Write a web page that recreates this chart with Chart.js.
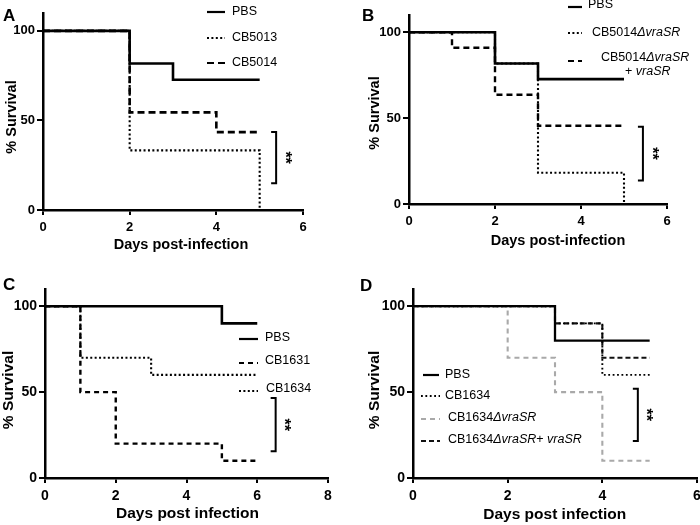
<!DOCTYPE html>
<html><head><meta charset="utf-8">
<script src="https://cdn.jsdelivr.net/npm/chart.js@4/dist/chart.umd.min.js"></script>
<style>
html,body{margin:0;padding:0;background:#fff;overflow:hidden;width:700px;height:525px;position:relative}
canvas{position:absolute}
</style></head><body>
<canvas id="cA" width="350" height="262" style="left:0;top:0"></canvas>
<canvas id="cB" width="350" height="262" style="left:350px;top:0"></canvas>
<canvas id="cC" width="350" height="263" style="left:0;top:262px"></canvas>
<canvas id="cD" width="360" height="263" style="left:350px;top:262px"></canvas>
<script>
// ---------------- DATA ----------------
const yTicks = [0, 50, 100];
const yTitle = '% Survival';

// Panel A
const aXTicks = [0, 2, 4, 6];
const aXTitle = 'Days post-infection';
const aLabels = ['PBS', 'CB5013', 'CB5014'];
const aPbsDays = [0, 2, 3, 5];
const aPbsSurv = [100, 81.8, 72.7, 72.7];
const aCB5013Days = [0, 2, 5];
const aCB5013Surv = [100, 33.3, 0];
const aCB5014Days = [0, 2, 4, 5];
const aCB5014Surv = [100, 54.5, 43.5, 43.5];
const aSig = [5.38, 43.5, 15];      // x, from, to
const aSigText = '**';

// Panel B
const bXTicks = [0, 2, 4, 6];
const bXTitle = 'Days post-infection';
const bLabels = ['PBS', 'CB5014<i>ΔvraSR</i>', 'CB5014<i>ΔvraSR</i>|+ <i>vraSR</i>'];
const bPbsDays = [0, 2, 3, 5];
const bPbsSurv = [100, 81.8, 72.7, 72.7];
const bDelDays = [0, 2, 3, 5];
const bDelSurv = [100, 81.8, 18.2, 0];
const bCompDays = [0, 1, 2, 3, 5];
const bCompSurv = [100, 90.9, 63.6, 45.5, 45.5];
const bSig = [5.44, 45, 13.7];
const bSigText = '**';

// Panel C
const cXTicks = [0, 2, 4, 6, 8];
const cXTitle = 'Days post infection';
const cLabels = ['PBS', 'CB1631', 'CB1634'];
const cPbsDays = [0, 5, 6];
const cPbsSurv = [100, 90, 90];
const cCB1631Days = [0, 1, 2, 5, 6];
const cCB1631Surv = [100, 50, 20, 10, 10];
const cCB1634Days = [0, 1, 3, 6];
const cCB1634Surv = [100, 70, 60, 60];
const cSig = [6.52, 46.6, 15.5];
const cSigText = '**';

// Panel D
const dXTicks = [0, 2, 4, 6];
const dXTitle = 'Days post infection';
const dLabels = ['PBS', 'CB1634', 'CB1634<i>ΔvraSR</i>', 'CB1634<i>ΔvraSR</i>+ <i>vraSR</i>'];
const dPbsDays = [0, 3, 5];
const dPbsSurv = [100, 80, 80];
const dCB1634Days = [0, 3, 4, 5];
const dCB1634Surv = [100, 90, 60, 60];
const dDelDays = [0, 2, 3, 4, 5];
const dDelSurv = [100, 70, 50, 10, 10];
const dCompDays = [0, 3, 4, 5];
const dCompSurv = [100, 90, 70, 70];
const dSig = [4.75, 52, 21.6];
const dSigText = '**';

// ---------------- RENDERING ----------------
const FONT = "'Liberation Sans', Arial, Helvetica, sans-serif";
Chart.defaults.animation = false;

const SOLID = {color: '#000', dash: [], width: 2.6};
const DOT = {color: '#000', dash: [2, 2.4], width: 2.1};
const DASH = {color: '#000', dash: [7, 4], width: 2.6};

function pts(days, surv) { return days.map((d, i) => ({x: d, y: surv[i]})); }

function parseRich(s) {
  const out = [];
  const re = /<i>(.*?)<\/i>|([^<]+)/g; let m;
  while ((m = re.exec(s))) { if (m[1] !== undefined) out.push([m[1], true]); else out.push([m[2], false]); }
  return out;
}
function drawRich(ctx, s, x, y, size) {
  let cx = x;
  for (const [t, it] of parseRich(s)) {
    ctx.font = (it ? 'italic ' : '') + size + 'px ' + FONT;
    ctx.fillText(t, cx, y);
    cx += ctx.measureText(t).width;
  }
  return cx;
}

function makePanel(id, p) {
  const cv = document.getElementById(id);
  const W = cv.width, H = cv.height;
  const datasets = p.series.map(s => ({
    label: s.label.replace(/<\/?i>/g, '').replace('|', ' '),
    data: pts(s.days, s.surv),
    stepped: true, pointRadius: 0, fill: false,
    borderColor: s.style.color, borderDash: s.style.dash, borderWidth: s.style.width,
    borderCapStyle: 'butt', borderJoinStyle: 'miter'
  }));
  const decor = {
    id: 'decor',
    afterDraw(chart) {
      const ctx = chart.ctx, xs = chart.scales.x, ys = chart.scales.y;
      ctx.save();
      ctx.fillStyle = '#000';
      // panel letter
      ctx.font = 'bold 17px ' + FONT; ctx.textAlign = 'left'; ctx.textBaseline = 'alphabetic';
      ctx.fillText(p.letter[0], p.letter[1], p.letter[2]);
      // axis titles
      ctx.font = 'bold ' + p.titleSize + 'px ' + FONT; ctx.textAlign = 'center'; ctx.textBaseline = 'middle';
      ctx.fillText(p.xTitle, p.xTitlePos[0], p.xTitlePos[1]);
      ctx.save(); ctx.translate(p.yTitlePos[0], p.yTitlePos[1]); ctx.rotate(-Math.PI / 2);
      ctx.fillText(yTitle, 0, 0); ctx.restore();
      // legend
      p.series.forEach((s, i) => {
        const L = p.legend[i];
        ctx.save();
        ctx.strokeStyle = s.style.color; ctx.lineWidth = L.lw || 2.2; ctx.setLineDash(s.style.legendDash || s.style.dash);
        ctx.beginPath(); ctx.moveTo(L.x1, L.y); ctx.lineTo(L.x2, L.y); ctx.stroke();
        ctx.restore();
        ctx.textAlign = 'left'; ctx.textBaseline = 'middle';
        const lines = s.label.split('|');
        lines.forEach((ln, k) => {
          const tx = k === 0 ? L.tx : L.tx2, ty = k === 0 ? L.ty : L.ty2;
          drawRich(ctx, ln, tx, ty, p.legendSize);
        });
      });
      // significance bracket
      const bx = xs.getPixelForValue(p.sig[0]);
      const by1 = ys.getPixelForValue(p.sig[1]), by2 = ys.getPixelForValue(p.sig[2]);
      ctx.strokeStyle = '#000'; ctx.lineWidth = 2; ctx.setLineDash([]);
      ctx.beginPath(); ctx.moveTo(bx - 5, by1); ctx.lineTo(bx, by1); ctx.lineTo(bx, by2); ctx.lineTo(bx - 5, by2); ctx.stroke();
      ctx.save(); ctx.translate(bx + 8, (by1 + by2) / 2); ctx.rotate(Math.PI / 2);
      ctx.font = 'bold 16px ' + FONT; ctx.textAlign = 'center'; ctx.textBaseline = 'middle';
      ctx.fillText(p.sigText, 0, 0); ctx.restore();
      ctx.restore();
    }
  };
  const tickFont = {family: FONT, size: p.tickSize, weight: 'bold'};
  return new Chart(cv, {
    type: 'line',
    data: {datasets},
    options: {
      responsive: false, devicePixelRatio: 1,
      layout: {padding: {left: 0, top: p.area.top, right: W - p.area.right, bottom: 0}},
      plugins: {legend: {display: false}, tooltip: {enabled: false}},
      scales: {
        x: {
          type: 'linear', min: 0, max: p.xTicks[p.xTicks.length - 1],
          afterBuildTicks: s => { s.ticks = p.xTicks.map(v => ({value: v})); },
          afterFit: s => { s.height = H - p.area.bottom; },
          ticks: {font: tickFont, color: '#000', padding: 5, maxRotation: 0, autoSkip: false},
          grid: {drawOnChartArea: false, drawTicks: true, tickLength: 5, color: '#000', lineWidth: 2},
          border: {display: true, color: '#000', width: 2.5}
        },
        y: {
          type: 'linear', min: 0, max: 110,
          afterBuildTicks: s => { s.ticks = yTicks.map(v => ({value: v})); },
          afterFit: s => { s.width = p.area.left; },
          ticks: {font: tickFont, color: '#000', padding: 2},
          grid: {drawOnChartArea: false, drawTicks: true, tickLength: 6, color: '#000', lineWidth: 2},
          border: {display: true, color: '#000', width: 2.5}
        }
      }
    },
    plugins: [decor]
  });
}

makePanel('cA', {
  area: {left: 43, right: 303, top: 13, bottom: 210},
  xTicks: aXTicks, xTitle: aXTitle, tickSize: 13, titleSize: 14.5, legendSize: 12.5,
  letter: ['A', 3, 21], xTitlePos: [181, 245], yTitlePos: [12, 117],
  series: [
    {label: aLabels[0], days: aPbsDays, surv: aPbsSurv, style: SOLID},
    {label: aLabels[1], days: aCB5013Days, surv: aCB5013Surv, style: DOT},
    {label: aLabels[2], days: aCB5014Days, surv: aCB5014Surv, style: DASH}
  ],
  legend: [
    {x1: 207, x2: 225, y: 12, tx: 232, ty: 12},
    {x1: 207, x2: 225, y: 38, tx: 232, ty: 38},
    {x1: 207, x2: 225, y: 63, tx: 232, ty: 63}
  ],
  sig: aSig, sigText: aSigText
});

makePanel('cB', {
  area: {left: 59, right: 317, top: 15, bottom: 204},
  xTicks: bXTicks, xTitle: bXTitle, tickSize: 13, titleSize: 14.5, legendSize: 12.5,
  letter: ['B', 12, 21], xTitlePos: [208, 241], yTitlePos: [25, 113],
  series: [
    {label: bLabels[0], days: bPbsDays, surv: bPbsSurv, style: SOLID},
    {label: bLabels[1], days: bDelDays, surv: bDelSurv, style: DOT},
    {label: bLabels[2], days: bCompDays, surv: bCompSurv, style: {color: '#000', dash: [6, 4], width: 2.4}}
  ],
  legend: [
    {x1: 218, x2: 232, y: 7, tx: 238, ty: 5},
    {x1: 218, x2: 232, y: 33, tx: 242, ty: 33},
    {x1: 218, x2: 232, y: 61, tx: 251, ty: 58, tx2: 275, ty2: 72}
  ],
  sig: bSig, sigText: bSigText
});

makePanel('cC', {
  area: {left: 45, right: 328, top: 27, bottom: 216},
  xTicks: cXTicks, xTitle: cXTitle, tickSize: 14, titleSize: 15.5, legendSize: 12.5,
  letter: ['C', 3, 28], xTitlePos: [187.5, 252], yTitlePos: [9, 128],
  series: [
    {label: cLabels[0], days: cPbsDays, surv: cPbsSurv, style: SOLID},
    {label: cLabels[1], days: cCB1631Days, surv: cCB1631Surv, style: {color: '#000', dash: [5, 4], width: 2.4}},
    {label: cLabels[2], days: cCB1634Days, surv: cCB1634Surv, style: DOT}
  ],
  legend: [
    {x1: 239, x2: 258, y: 77, tx: 265, ty: 76},
    {x1: 239, x2: 258, y: 101, tx: 265, ty: 99},
    {x1: 239, x2: 258, y: 129, tx: 266, ty: 127}
  ],
  sig: cSig, sigText: cSigText
});

makePanel('cD', {
  area: {left: 63, right: 347, top: 27, bottom: 216},
  xTicks: dXTicks, xTitle: dXTitle, tickSize: 14, titleSize: 15.5, legendSize: 12.5,
  letter: ['D', 10, 29], xTitlePos: [204.7, 253], yTitlePos: [25, 128],
  series: [
    {label: dLabels[0], days: dPbsDays, surv: dPbsSurv, style: {color: '#000', dash: [], width: 2.3}},
    {label: dLabels[1], days: dCB1634Days, surv: dCB1634Surv, style: {color: '#000', dash: [1.8, 2.6], width: 1.9}},
    {label: dLabels[2], days: dDelDays, surv: dDelSurv, style: {color: '#a9a9a9', dash: [5, 4], width: 2.1}},
    {label: dLabels[3], days: dCompDays, surv: dCompSurv, style: {color: '#111', dash: [5, 3], width: 2.1}}
  ],
  legend: [
    {x1: 73, x2: 89, y: 113, tx: 95, ty: 113},
    {x1: 71, x2: 90, y: 134, tx: 95, ty: 134},
    {x1: 71, x2: 90, y: 157, tx: 98, ty: 156},
    {x1: 71, x2: 90, y: 179, tx: 98, ty: 178}
  ],
  sig: dSig, sigText: dSigText
});
</script>
</body></html>
